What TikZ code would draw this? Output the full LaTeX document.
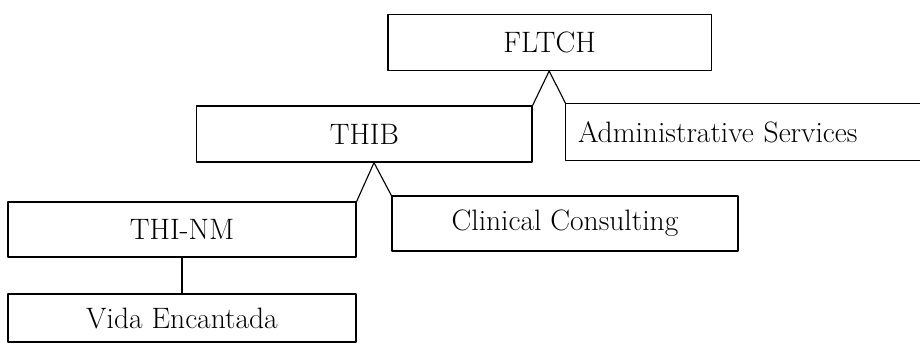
\documentclass[tikz,border=0pt]{standalone}
\usetikzlibrary{calc}

\begin{document}
\begin{tikzpicture}[
  line cap=round,
  line join=round,
  every node/.style={font=\fontsize{21}{24}\selectfont},
  unit/.style={draw, line width=0.9pt, inner sep=0pt, minimum height=1.4cm},
  link/.style={line width=0.8pt}
]
  \useasboundingbox (0,0) rectangle (23,-8.6);

  \node[unit, minimum width=8.08cm] (fltch) at (13.74,-1.06) {FLTCH};
  \node[unit, minimum width=8.38cm] (thib) at (9.11,-3.35) {THIB};
  \node[inner sep=0pt, minimum height=1.4cm, minimum width=8.85cm,
        text width=8.25cm, inner xsep=0.3cm, align=left] (admin) at (18.575,-3.30)
    {Administrative Services};
  \node[unit, minimum width=8.65cm, minimum height=1.375cm] (clinical) at (14.125,-5.59) {Clinical Consulting};
  \node[unit, minimum width=8.7cm, minimum height=1.375cm] (thinm) at (4.55,-5.74) {THI-NM};
  \node[unit, minimum width=8.7cm, minimum height=1.2cm] (vida) at (4.55,-7.95) {Vida Encantada};

  % open box running off the right edge
  \draw[line width=0.9pt] (admin.north east) -| (admin.south west) -- (admin.south east);

  % peaks sit midway between the two children
  \coordinate (gapA) at ($(thib.north east)!0.5!(admin.north west)$);
  \coordinate (gapB) at ($(thinm.north east)!0.5!(clinical.north west)$);
  \coordinate (peakA) at (fltch.south -| gapA);
  \coordinate (peakB) at (thib.south -| gapB);

  \draw[link] (thib.north east) -- (peakA) -- (admin.north west);
  \draw[link] (thinm.north east) -- (peakB) -- (clinical.north west);
  \draw[link] (thinm.south) -- (vida.north);
\end{tikzpicture}
\end{document}
